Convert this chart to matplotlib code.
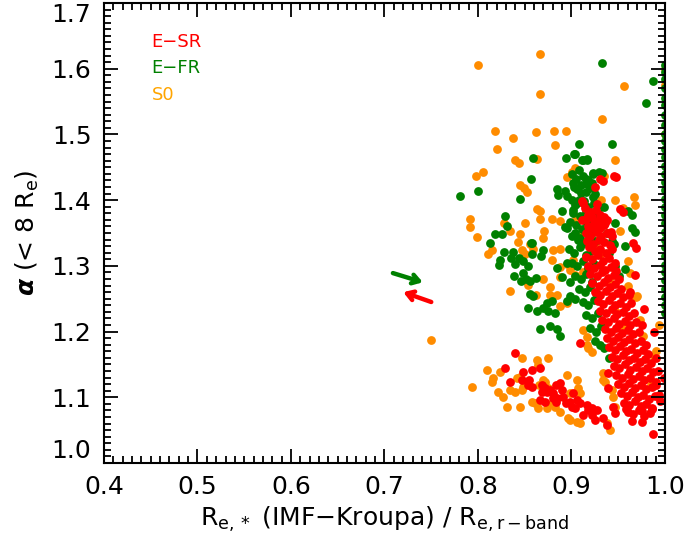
import numpy as np
import matplotlib
matplotlib.use('Agg')
import matplotlib.pyplot as plt

## Data: (R_e* / R_e,r-band, alpha(<8Re))
# S0 galaxies
s0_pts = [
    (0.866,1.622),(0.800,1.606),(0.956,1.574),(0.866,1.561),(0.933,1.523),(0.818,1.505),
    (0.837,1.495),(0.862,1.504),(0.881,1.505),(0.894,1.505),(0.882,1.484),(0.820,1.478),
    (0.863,1.463),(0.840,1.461),(0.844,1.456),(0.947,1.461),(0.904,1.449),(0.901,1.443),
    (0.895,1.435),(0.935,1.437),(0.805,1.443),(0.798,1.437),(0.932,1.400),(0.946,1.400),
    (0.967,1.405),(0.968,1.393),(0.955,1.388),(0.952,1.353),(0.960,1.307),(0.963,1.289),
    (0.960,1.269),(0.966,1.254),(0.970,1.254),(0.973,1.218),(0.976,1.193),(0.988,1.163),
    (0.969,1.252),(0.845,1.423),(0.849,1.419),(0.852,1.412),(0.863,1.386),(0.866,1.383),
    (0.791,1.371),(0.791,1.359),(0.799,1.344),(0.828,1.365),(0.834,1.353),(0.850,1.365),
    (0.866,1.371),(0.888,1.368),(0.879,1.371),(0.845,1.348),(0.843,1.337),(0.847,1.324),
    (0.856,1.333),(0.859,1.326),(0.850,1.318),(0.871,1.353),(0.869,1.342),(0.815,1.324),
    (0.811,1.318),(0.880,1.324),(0.888,1.326),(0.879,1.309),(0.888,1.298),(0.895,1.303),
    (0.902,1.309),(0.888,1.283),(0.898,1.294),(0.904,1.286),(0.870,1.280),(0.877,1.268),
    (0.885,1.256),(0.877,1.256),(0.862,1.256),(0.853,1.271),(0.834,1.262),(0.888,1.239),
    (0.895,1.244),(0.912,1.202),(0.917,1.192),(0.922,1.169),(0.934,1.137),(0.934,1.126),
    (0.946,1.085),(0.938,1.061),(0.985,1.119),(0.990,1.170),(0.994,1.210),(0.750,1.187),
    (0.810,1.141),(0.824,1.138),(0.816,1.129),(0.815,1.123),(0.821,1.108),(0.827,1.100),
    (0.831,1.085),(0.845,1.085),(0.834,1.111),(0.840,1.108),(0.847,1.111),(0.848,1.116),
    (0.842,1.129),(0.845,1.131),(0.847,1.160),(0.863,1.157),(0.864,1.149),(0.875,1.160),
    (0.861,1.091),(0.858,1.093),(0.864,1.084),(0.874,1.084),(0.879,1.091),(0.882,1.085),
    (0.888,1.078),(0.895,1.134),(0.898,1.106),(0.906,1.126),(0.907,1.114),(0.909,1.106),
    (0.896,1.068),(0.898,1.065),(0.906,1.062),(0.909,1.061),(0.918,1.175),(0.917,1.180),
    (0.936,1.123),(0.943,1.111),(0.944,1.100),(0.941,1.050),(0.794,1.116),(0.869,1.126),
    (0.872,1.123),(0.865,1.118),(0.875,1.114),(0.917,1.365),(0.911,1.352),(0.905,1.372),
    (0.925,1.335),(0.930,1.318),(0.912,1.290),(0.940,1.280),(0.948,1.230),(0.955,1.205),
    (1.000,1.600),(1.000,1.575),(1.000,1.500),
]

# fast-rotating ellipticals
fr_pts = [
    (0.933,1.609),(0.987,1.581),(0.980,1.548),(0.908,1.485),(0.943,1.485),(0.859,1.464),
    (0.894,1.464),(0.903,1.470),(0.911,1.461),(0.917,1.463),(0.916,1.432),(0.857,1.432),
    (0.800,1.414),(0.781,1.406),(0.845,1.402),(0.884,1.417),(0.886,1.408),(0.893,1.414),
    (0.895,1.406),(0.902,1.426),(0.906,1.417),(0.910,1.411),(0.917,1.425),(0.922,1.426),
    (0.923,1.405),(0.908,1.446),(0.923,1.441),(0.929,1.443),(0.960,1.383),(0.890,1.383),
    (0.904,1.393),(0.908,1.400),(0.902,1.385),(0.893,1.359),(0.895,1.358),(0.904,1.350),
    (0.909,1.342),(0.965,1.358),(0.946,1.365),(0.943,1.338),(0.857,1.335),
    (0.829,1.376),(0.831,1.361),(0.818,1.349),(0.826,1.349),(0.813,1.335),(0.828,1.321),
    (0.837,1.321),(0.824,1.309),(0.822,1.301),(0.835,1.312),(0.844,1.312),(0.840,1.303),
    (0.848,1.307),(0.853,1.300),(0.848,1.289),(0.838,1.284),(0.846,1.277),(0.851,1.280),
    (0.856,1.277),(0.862,1.281),(0.858,1.335),(0.858,1.318),(0.869,1.324),(0.867,1.315),
    (0.885,1.297),(0.895,1.304),(0.898,1.275),(0.890,1.283),(0.856,1.257),(0.859,1.254),
    (0.853,1.236),(0.863,1.231),(0.869,1.236),(0.874,1.244),(0.879,1.247),(0.875,1.231),
    (0.882,1.228),(0.866,1.204),(0.877,1.208),(0.884,1.204),(0.888,1.193),(0.895,1.247),
    (0.898,1.254),(0.904,1.250),
    (0.900,1.440),(0.905,1.432),(0.912,1.436),(0.918,1.430),(0.903,1.420),(0.910,1.423),
    (0.915,1.412),(0.920,1.418),(0.925,1.410),(0.900,1.400),(0.906,1.395),(0.913,1.398),
    (0.918,1.390),(0.924,1.396),(0.929,1.388),(0.902,1.380),(0.909,1.376),(0.915,1.382),
    (0.921,1.372),(0.927,1.378),(0.898,1.366),(0.905,1.362),(0.911,1.356),(0.917,1.363),
    (0.923,1.352),(0.900,1.345),(0.907,1.340),(0.913,1.335),(0.919,1.344),(0.925,1.338),
    (0.897,1.325),(0.903,1.320),(0.909,1.328),(0.915,1.316),(0.921,1.322),(0.900,1.305),
    (0.906,1.300),(0.912,1.308),(0.918,1.296),(0.924,1.303),(0.904,1.285),(0.910,1.280),
    (0.916,1.288),(0.922,1.276),(0.908,1.265),(0.914,1.260),(0.920,1.268),(0.926,1.258),
    (0.912,1.245),(0.918,1.240),(0.924,1.248),(0.916,1.225),(0.922,1.220),(0.928,1.228),
    (0.920,1.205),(0.926,1.200),(0.932,1.208),(0.925,1.185),(0.930,1.180),(0.935,1.175),
    (0.940,1.160),(0.904,1.470),(0.912,1.461),(0.917,1.461),(0.923,1.440),(0.933,1.441),
    (0.965,1.377),(0.968,1.352),(0.957,1.330),(0.957,1.295),(0.951,1.284),(0.945,1.333),
    (0.946,1.300),(0.938,1.350),(0.940,1.320),(0.935,1.390),
    (1.000,1.605),(1.000,1.595),(1.000,1.585),(1.000,1.570),(1.000,1.555),(1.000,1.545),
    (1.000,1.530),(1.000,1.515),(1.000,1.500),(1.000,1.490),(1.000,1.478),(1.000,1.465),
    (1.000,1.452),(1.000,1.440),(1.000,1.428),(1.000,1.415),(1.000,1.402),(1.000,1.390),
    (1.000,1.378),(1.000,1.365),(1.000,1.352),(1.000,1.340),(1.000,1.328),(1.000,1.315),
    (1.000,1.302),(1.000,1.290),(1.000,1.278),(1.000,1.265),(1.000,1.252),(1.000,1.240),
    (1.000,1.228),
]

# slow-rotating ellipticals
sr_pts = [
    (0.945,1.437),(0.931,1.432),(0.925,1.420),(0.911,1.399),(0.927,1.394),(0.952,1.386),
    (0.942,1.351),(0.966,1.335),(0.911,1.370),(0.918,1.377),(0.924,1.368),(0.935,1.374),
    (0.936,1.365),(0.919,1.356),(0.927,1.358),(0.948,1.435),(0.934,1.429),(0.912,1.396),
    (0.955,1.382),(0.938,1.370),(0.943,1.345),(0.969,1.327),(0.968,1.286),(0.963,1.260),
    (0.914,1.388),(0.920,1.382),(0.926,1.385),(0.930,1.378),(0.916,1.372),(0.922,1.375),
    (0.928,1.368),(0.933,1.372),(0.918,1.360),(0.924,1.362),(0.930,1.358),(0.935,1.362),
    (0.915,1.350),(0.920,1.345),(0.926,1.352),(0.932,1.346),(0.938,1.350),(0.917,1.338),
    (0.923,1.334),(0.929,1.340),(0.935,1.336),(0.941,1.332),(0.919,1.328),(0.925,1.322),
    (0.931,1.326),(0.937,1.320),(0.943,1.325),(0.916,1.314),(0.922,1.310),(0.928,1.316),
    (0.934,1.308),(0.940,1.312),(0.946,1.305),(0.918,1.300),(0.924,1.296),(0.930,1.302),
    (0.936,1.294),(0.942,1.298),(0.948,1.292),(0.920,1.288),(0.927,1.284),(0.933,1.290),
    (0.939,1.282),(0.945,1.286),(0.951,1.280),(0.922,1.274),(0.929,1.270),(0.935,1.276),
    (0.941,1.268),(0.947,1.272),(0.953,1.265),(0.925,1.260),(0.931,1.256),(0.937,1.262),
    (0.943,1.254),(0.949,1.258),(0.955,1.252),(0.961,1.256),(0.928,1.246),(0.934,1.242),
    (0.940,1.248),(0.946,1.240),(0.952,1.244),(0.958,1.238),(0.964,1.243),(0.930,1.232),
    (0.937,1.228),(0.943,1.234),(0.949,1.226),(0.955,1.230),(0.961,1.224),(0.967,1.228),
    (0.933,1.218),(0.939,1.214),(0.945,1.220),(0.951,1.212),(0.957,1.216),(0.963,1.210),
    (0.969,1.214),(0.936,1.204),(0.942,1.200),(0.948,1.206),(0.954,1.198),(0.960,1.202),
    (0.966,1.196),(0.972,1.200),(0.938,1.190),(0.944,1.186),(0.950,1.192),(0.956,1.184),
    (0.962,1.188),(0.968,1.182),(0.974,1.186),(0.980,1.180),(0.940,1.176),(0.946,1.172),
    (0.952,1.178),(0.958,1.170),(0.964,1.174),(0.970,1.168),(0.976,1.172),(0.982,1.166),
    (0.943,1.162),(0.949,1.158),(0.955,1.164),(0.961,1.156),(0.967,1.160),(0.973,1.154),
    (0.979,1.158),(0.985,1.152),(0.945,1.148),(0.951,1.144),(0.957,1.150),(0.963,1.142),
    (0.969,1.146),(0.975,1.140),(0.981,1.144),(0.987,1.138),(0.948,1.134),(0.954,1.130),
    (0.960,1.136),(0.966,1.128),(0.972,1.132),(0.978,1.126),(0.984,1.130),(0.990,1.124),
    (0.950,1.120),(0.956,1.116),(0.962,1.122),(0.968,1.114),(0.974,1.118),(0.980,1.112),
    (0.986,1.116),(0.953,1.106),(0.959,1.102),(0.965,1.108),(0.971,1.100),(0.977,1.104),
    (0.983,1.098),(0.989,1.102),(0.956,1.092),(0.962,1.088),(0.968,1.094),(0.974,1.086),
    (0.980,1.090),(0.986,1.084),(0.960,1.078),(0.966,1.074),(0.972,1.080),(0.978,1.072),
    (0.984,1.076),(0.965,1.064),(0.975,1.062),(0.993,1.140),(0.995,1.095),(0.990,1.160),
    (0.988,1.200),(0.978,1.235),(0.975,1.210),(0.947,1.076),(0.958,1.082),(0.987,1.044),
    (0.975,1.079),(0.986,1.082),(0.994,1.103),(0.990,1.119),(0.999,1.129),
    (0.840,1.167),(0.848,1.138),(0.858,1.141),(0.866,1.144),(0.834,1.123),(0.847,1.126),
    (0.855,1.126),(0.858,1.116),(0.853,1.119),(0.868,1.119),(0.872,1.114),(0.868,1.108),
    (0.874,1.108),(0.877,1.111),(0.880,1.106),(0.883,1.119),(0.888,1.122),(0.890,1.111),
    (0.880,1.099),(0.866,1.096),(0.872,1.093),(0.883,1.093),(0.885,1.099),(0.891,1.100),
    (0.894,1.091),(0.898,1.093),(0.902,1.106),(0.906,1.096),(0.900,1.085),(0.904,1.084),
    (0.909,1.091),(0.917,1.088),(0.918,1.081),(0.922,1.084),(0.927,1.081),(0.912,1.073),
    (0.922,1.073),(0.925,1.065),(0.934,1.068),(0.938,1.058),(0.944,1.085),(0.939,1.137),
    (0.939,1.114),(0.909,1.183),(0.829,1.145),
]

# arrows (tail -> head)
fr_arrow = [(0.709, 1.289), (0.741, 1.275)]
sr_arrow = [(0.750, 1.245), (0.720, 1.260)]

labels = ['E\u2212SR', 'E\u2212FR', 'S0']
c_sr, c_fr, c_s0 = '#ff0000', '#008000', '#ff8c00'

s0 = np.array(s0_pts)
fr = np.array(fr_pts)
sr = np.array(sr_pts)

plt.rcParams['font.family'] = 'DejaVu Sans'
fig = plt.figure(figsize=(6.85, 5.53), dpi=100)
ax = fig.add_axes([104/685, 90/553, 561/685, 460/553])

ms = 40
ax.scatter(s0[:, 0], s0[:, 1], s=ms, color=c_s0, linewidths=0)
ax.scatter(fr[:, 0], fr[:, 1], s=ms, color=c_fr, linewidths=0)
ax.scatter(sr[:, 0], sr[:, 1], s=ms, color=c_sr, linewidths=0)

for arr, col in [(fr_arrow, c_fr), (sr_arrow, c_sr)]:
    ax.annotate('', xy=arr[1], xytext=arr[0],
                arrowprops=dict(arrowstyle='->, head_length=0.5, head_width=0.32',
                                color=col, lw=3.2, shrinkA=0, shrinkB=0))

ax.set_xlim(0.4, 1.0)
ax.set_ylim(1.0, 1.7)
ax.set_xticks(np.arange(0.4, 1.01, 0.1))
ax.set_xticklabels(['0.4', '0.5', '0.6', '0.7', '0.8', '0.9', '1.0'])
ax.set_yticks(np.arange(1.0, 1.71, 0.1))
ax.set_yticklabels(['1.0', '1.1', '1.2', '1.3', '1.4', '1.5', '1.6', '1.7'])
ax.set_xticks(np.arange(0.4, 1.0, 0.01), minor=True)
ax.set_yticks(np.arange(1.0, 1.7, 0.01), minor=True)
ax.tick_params(which='both', direction='in', top=True, right=True, width=1.3)
ax.tick_params(which='major', length=10, labelsize=18, pad=9)
ax.tick_params(which='minor', length=5)
for sp in ax.spines.values():
    sp.set_linewidth(1.5)

ylabs = ax.get_yticklabels()
ylabs[-1].set_va('top')
ylabs[0].set_va('bottom')

ax.set_xlabel(r'$\mathregular{R_{e,*}}$ (IMF$-$Kroupa) / $\mathregular{R_{e,r-band}}$',
              fontsize=18, labelpad=4)
ax.set_ylabel(r'$\boldsymbol{\alpha}$ (< 8 $\mathregular{R_e}$)', fontsize=18, labelpad=8)

for i, (lab, col) in enumerate(zip(labels, [c_sr, c_fr, '#ffa500'])):
    ax.text(0.085, 0.905 - i * 0.058, lab, color=col, fontsize=13,
            transform=ax.transAxes)

fig.savefig('out.png', dpi=100)
